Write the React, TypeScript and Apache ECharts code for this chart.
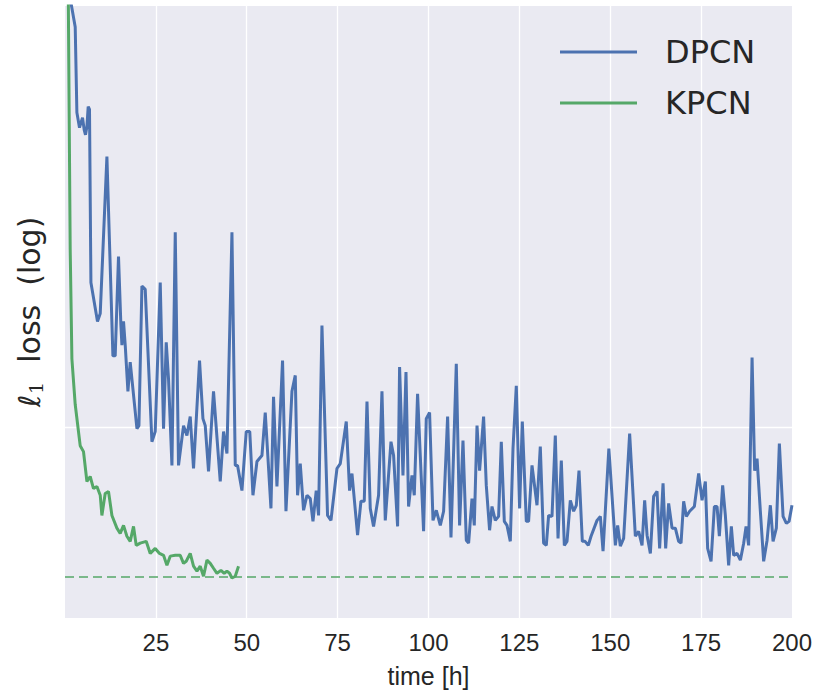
import React, { useEffect, useRef } from "react";
import * as echarts from "echarts";

// ---- data ----
const DPCN_TIME = [
  1.5, 2.81, 3.27, 3.99, 4.82, 5.28, 5.64, 6.03, 6.38, 6.74, 7.13, 8.94, 9.69, 11.53, 13.18, 13.81, 14.72, 15.38, 15.66, 16.1,
  16.57, 17.31, 17.94, 19.79, 20.34, 21.16, 22.07, 23.91, 24.82, 26.2, 27.11, 27.85, 28.48, 29.42, 30.33, 31.23, 32.61, 33.54, 34.45, 35.36,
  37.01, 37.95, 38.58, 39.49, 40.86, 42.71, 43.62, 44.55, 45.93, 46.84, 47.47, 48.68, 49.86, 50.83, 51.71, 52.81, 54.18, 55.09, 56.66, 57.37,
  58.31, 59.85, 60.79, 62.44, 63.35, 63.98, 64.72, 65.63, 66.57, 67.47, 68.22, 69.12, 69.76, 70.69, 72.23, 73.17, 74.82, 75.73, 77.38, 78.29,
  78.95, 80.49, 81.42, 82.33, 83.08, 83.98, 84.89, 86.27, 87.2, 88.11, 89.68, 90.4, 91.5, 92.05, 92.98, 93.81, 94.52, 95.46, 96.09, 97.0,
  98.65, 99.39, 100.3, 101.24, 102.15, 103.25, 104.16, 105.26, 106.19, 107.65, 108.56, 109.49, 110.4, 111.04, 111.97, 112.6, 113.35, 114.06, 115.16, 115.9,
  116.81, 117.47, 118.38, 119.29, 120.03, 120.86, 121.6, 122.51, 123.25, 124.16, 125.07, 125.81, 126.91, 127.54, 128.48, 129.85, 130.76, 131.67, 132.41, 133.05,
  133.98, 134.89, 135.64, 136.54, 137.37, 138.11, 139.02, 139.93, 140.67, 141.41, 142.32, 143.07, 143.97, 144.72, 146.37, 147.28, 148.02, 149.62, 151.41, 152.04,
  152.78, 153.69, 155.34, 156.91, 157.82, 158.75, 159.47, 160.13, 161.04, 161.94, 162.88, 163.59, 164.53, 165.25, 166.07, 167.01, 167.91, 168.82, 169.48, 170.2,
  170.94, 171.85, 173.14, 174.33, 175.26, 176.17, 176.8, 177.74, 178.65, 179.39, 180.02, 180.93, 181.67, 182.58, 183.32, 183.96, 184.89, 185.8, 186.71, 187.37,
  188.08, 189.02, 189.73, 190.39, 191.3, 192.21, 193.15, 194.05, 194.8, 195.7, 196.53, 197.55, 198.46, 199.2, 200.0,
];
const DPCN_LOSS = [
  0.72, 0.635, 0.428, 0.399, 0.418, 0.395, 0.386, 0.401, 0.44, 0.434, 0.195, 0.163, 0.169, 0.349, 0.139, 0.139, 0.22, 0.16, 0.146, 0.163,
  0.146, 0.118, 0.135, 0.0993, 0.1007, 0.192, 0.189, 0.0935, 0.098, 0.195, 0.0993, 0.148, 0.125, 0.0838, 0.246, 0.0838, 0.1007, 0.0962, 0.105, 0.0826,
  0.136, 0.104, 0.1007, 0.0815, 0.118, 0.0778, 0.098, 0.0885, 0.246, 0.0838, 0.0838, 0.0746, 0.098, 0.098, 0.073, 0.0853, 0.0877, 0.107, 0.0687, 0.115,
  0.076, 0.136, 0.0678, 0.118, 0.127, 0.073, 0.0845, 0.0681, 0.073, 0.0719, 0.0647, 0.0746, 0.0665, 0.16, 0.0665, 0.065, 0.0826, 0.0845, 0.1026, 0.0746,
  0.0807, 0.0607, 0.071, 0.071, 0.1125, 0.0687, 0.0632, 0.073, 0.118, 0.065, 0.0935, 0.0877, 0.0632, 0.132, 0.08, 0.129, 0.0693, 0.08, 0.073, 0.1167,
  0.0618, 0.104, 0.107, 0.065, 0.0681, 0.0635, 0.0678, 0.105, 0.0601, 0.134, 0.0635, 0.094, 0.0593, 0.0585, 0.0719, 0.0635, 0.1007, 0.0818, 0.105, 0.0764,
  0.0621, 0.0693, 0.065, 0.0662, 0.0935, 0.0647, 0.0635, 0.059, 0.0906, 0.121, 0.0687, 0.1026, 0.0647, 0.0647, 0.0838, 0.0697, 0.0914, 0.0585, 0.0579, 0.0665,
  0.0662, 0.0962, 0.0598, 0.0857, 0.0579, 0.059, 0.0713, 0.0678, 0.0697, 0.0818, 0.059, 0.059, 0.0579, 0.0604, 0.065, 0.0662, 0.0564, 0.0906, 0.0579, 0.0635,
  0.0577, 0.0598, 0.0971, 0.0604, 0.0618, 0.0579, 0.0713, 0.0607, 0.0558, 0.0726, 0.0743, 0.0571, 0.0771, 0.0571, 0.0703, 0.0627, 0.0627, 0.059, 0.0585, 0.071,
  0.0662, 0.0678, 0.0693, 0.0807, 0.0713, 0.0778, 0.0571, 0.0538, 0.0693, 0.0693, 0.0604, 0.0764, 0.0665, 0.0528, 0.0632, 0.0553, 0.0558, 0.0541, 0.0585, 0.0632,
  0.0579, 0.138, 0.0818, 0.0865, 0.0678, 0.0538, 0.0593, 0.0697, 0.059, 0.0627, 0.0927, 0.0662, 0.0641, 0.0647, 0.0697,
];

const KPCN_TIME = [
  0.9, 1.43, 1.9, 2.81, 4.18, 5.09, 6.03, 6.93, 7.84, 8.78, 9.69, 10.15, 11.06, 11.97, 12.91, 14.28, 15.19, 16.1, 17.03, 17.94,
  18.85, 19.59, 20.69, 22.34, 23.45, 24.82, 26.0, 27.11, 28.04, 28.95, 30.33, 31.7, 32.61, 33.35, 34.45, 35.36, 36.3, 37.2, 38.11, 39.05,
  39.96, 40.86, 41.8, 42.9, 43.81, 44.55, 45.27, 45.93, 46.84, 47.74,
];
const KPCN_LOSS = [
  0.74, 0.2275, 0.137, 0.111, 0.0918, 0.0893, 0.0778, 0.0796, 0.0753, 0.076, 0.073, 0.0665, 0.0736, 0.0743, 0.0665, 0.0627, 0.0612, 0.0635, 0.0604, 0.059,
  0.0632, 0.0579, 0.0585, 0.059, 0.0558, 0.0571, 0.0558, 0.0553, 0.0528, 0.0551, 0.0553, 0.0553, 0.0533, 0.0538, 0.0558, 0.0526, 0.0514, 0.0526, 0.0502, 0.0541,
  0.0533, 0.0521, 0.0509, 0.0516, 0.0509, 0.0514, 0.0509, 0.0498, 0.0502, 0.0526,
];

const KPCN_FINAL = 0.0515;
const X_TICKS = [25, 50, 75, 100, 125, 150, 175, 200];
const SERIES_NAMES = ["DPCN", "KPCN"];

const BLUE = "#4C72B0";
const GREEN = "#55A868";
const TEXT = "#262626";

export default function App() {
  const ref = useRef<HTMLDivElement>(null);

  useEffect(() => {
    if (!ref.current) return;
    const chart = echarts.init(ref.current, undefined, { renderer: "svg" });
    const dpcn = DPCN_TIME.map((t, i) => [t, DPCN_LOSS[i]]);
    const kpcn = KPCN_TIME.map((t, i) => [t, KPCN_LOSS[i]]);
    chart.setOption({
      animation: false,
      backgroundColor: "#ffffff",
      grid: {
        left: 65,
        right: 23,
        top: 6,
        bottom: 72,
        show: true,
        backgroundColor: "#EAEAF2",
        borderWidth: 0,
      },
      legend: {
        orient: "vertical",
        left: 555,
        top: 31,
        icon: "rect",
        itemWidth: 77,
        itemHeight: 3,
        itemGap: 19,
        data: SERIES_NAMES,
        textStyle: {
          fontFamily: "DejaVu Sans",
          fontSize: 32,
          lineHeight: 32,
          color: TEXT,
          padding: [0, 0, 0, 23],
        },
      },
      xAxis: {
        type: "value",
        min: 0,
        max: 200,
        interval: 25,
        name: "time [h]",
        nameLocation: "middle",
        nameGap: 45,
        nameTextStyle: { fontFamily: "Liberation Sans Narrow, Liberation Sans", fontSize: 25, color: TEXT },
        axisLine: { show: false },
        axisTick: { show: false },
        axisLabel: {
          margin: 12,
          fontFamily: "Liberation Sans Narrow, Liberation Sans",
          fontSize: 24,
          color: TEXT,
          formatter: (v: number) => (X_TICKS.includes(v) ? String(v) : ""),
        },
        splitLine: { show: true, showMinLine: false, showMaxLine: false, lineStyle: { color: "#ffffff", width: 1.3 } },
      },
      yAxis: {
        type: "log",
        logBase: 10,
        min: 0.0414,
        max: 0.7,
        name: "ℓ{s|1}  loss  (log)",
        nameLocation: "middle",
        nameGap: 20,
        nameRotate: 90,
        nameTextStyle: {
          fontFamily: "DejaVu Sans",
          fontSize: 30,
          color: TEXT,
          rich: { s: { fontFamily: "DejaVu Serif", fontSize: 19, color: TEXT, padding: [12, 0, 0, 1] } },
        },
        axisLine: { show: false },
        axisTick: { show: false },
        axisLabel: { show: false },
        splitLine: { show: true, showMinLine: false, showMaxLine: false, lineStyle: { color: "#ffffff", width: 1.3 } },
      },
      series: [
        {
          name: "DPCN",
          type: "line",
          data: dpcn,
          symbol: "none",
          clip: true,
          lineStyle: { color: BLUE, width: 3 },
          itemStyle: { color: BLUE },
        },
        {
          name: "KPCN",
          type: "line",
          data: kpcn,
          symbol: "none",
          clip: true,
          lineStyle: { color: GREEN, width: 3 },
          itemStyle: { color: GREEN },
          markLine: {
            silent: true,
            symbol: "none",
            label: { show: false },
            lineStyle: { color: GREEN, type: [9, 5], width: 1.6 },
            data: [{ yAxis: KPCN_FINAL }],
          },
        },
      ],
    });
    return () => chart.dispose();
  }, []);

  return (
    <div
      ref={ref}
      style={{ position: "fixed", left: 0, top: 0, width: 815, height: 693 }}
    />
  );
}
